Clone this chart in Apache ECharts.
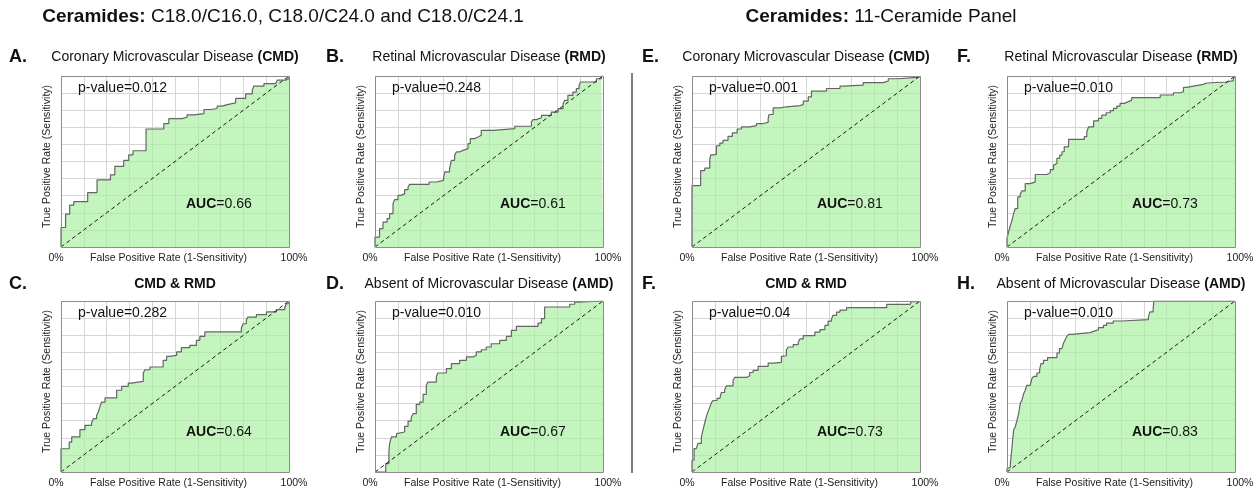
<!DOCTYPE html>
<html><head><meta charset="utf-8">
<script src="https://cdn.jsdelivr.net/npm/echarts/dist/echarts.min.js"></script>
<style>html,body{margin:0;padding:0;background:#fff}#c{width:1260px;height:490px}</style>
</head><body><div id="c"></div>
<script>
// ---- Data (FPR / TPR step points) ----
const fprA = [0, 0, 0.020, 0.038, 0.056, 0.117, 0.158, 0.217, 0.236, 0.275, 0.297, 0.316, 0.373, 0.451, 0.473, 0.531, 0.553, 0.583, 0.627, 0.656, 0.685, 0.707, 0.729, 0.766, 0.810, 0.839, 0.846, 0.890, 0.941, 0.949, 0.985, 1];
const tprA = [0, 0.114, 0.192, 0.245, 0.265, 0.318, 0.392, 0.422, 0.471, 0.506, 0.539, 0.563, 0.690, 0.722, 0.751, 0.759, 0.773, 0.780, 0.804, 0.810, 0.824, 0.833, 0.843, 0.869, 0.896, 0.918, 0.941, 0.955, 0.965, 0.976, 0.986, 1];

const fprB = [0, 0, 0.020, 0.035, 0.053, 0.064, 0.079, 0.086, 0.101, 0.115, 0.130, 0.145, 0.152, 0.237, 0.269, 0.301, 0.306, 0.327, 0.335, 0.349, 0.357, 0.371, 0.386, 0.408, 0.418, 0.437, 0.452, 0.466, 0.518, 0.613, 0.686, 0.693, 0.708, 0.730, 0.773, 0.803, 0.825, 0.832, 0.846, 0.868, 0.883, 0.895, 0.901, 0.971, 0.993, 1];
const tprB = [0, 0.058, 0.107, 0.146, 0.166, 0.195, 0.253, 0.277, 0.302, 0.312, 0.335, 0.351, 0.366, 0.380, 0.390, 0.405, 0.439, 0.458, 0.507, 0.536, 0.556, 0.565, 0.575, 0.604, 0.634, 0.643, 0.653, 0.682, 0.692, 0.706, 0.731, 0.745, 0.756, 0.770, 0.789, 0.809, 0.838, 0.858, 0.887, 0.906, 0.926, 0.945, 0.965, 0.984, 1.0, 1];

const fprC = [0, 0, 0.036, 0.047, 0.083, 0.105, 0.134, 0.142, 0.156, 0.164, 0.171, 0.178, 0.193, 0.244, 0.266, 0.295, 0.309, 0.361, 0.368, 0.390, 0.448, 0.463, 0.477, 0.507, 0.528, 0.565, 0.594, 0.609, 0.631, 0.791, 0.799, 0.813, 0.820, 0.857, 0.901, 0.945, 0.981, 0.988, 1];
const tprC = [0, 0.136, 0.175, 0.205, 0.248, 0.273, 0.287, 0.312, 0.331, 0.351, 0.384, 0.409, 0.433, 0.478, 0.501, 0.520, 0.530, 0.579, 0.598, 0.614, 0.653, 0.676, 0.682, 0.702, 0.727, 0.741, 0.770, 0.793, 0.819, 0.844, 0.867, 0.891, 0.906, 0.920, 0.936, 0.949, 0.961, 0.984, 1];

const fprD = [0, 0.047, 0.061, 0.064, 0.072, 0.094, 0.101, 0.130, 0.145, 0.159, 0.167, 0.181, 0.196, 0.211, 0.225, 0.232, 0.269, 0.276, 0.313, 0.335, 0.371, 0.401, 0.430, 0.444, 0.466, 0.488, 0.510, 0.547, 0.576, 0.598, 0.620, 0.715, 0.730, 0.744, 0.854, 0.876, 0.890, 1];
const tprD = [0, 0.049, 0.117, 0.166, 0.205, 0.224, 0.234, 0.267, 0.298, 0.318, 0.341, 0.396, 0.409, 0.454, 0.507, 0.526, 0.559, 0.579, 0.604, 0.634, 0.653, 0.673, 0.682, 0.702, 0.715, 0.731, 0.750, 0.770, 0.793, 0.828, 0.852, 0.871, 0.897, 0.965, 0.981, 0.994, 1.0, 1];

const fprE = [0, 0, 0.038, 0.056, 0.078, 0.082, 0.095, 0.107, 0.122, 0.136, 0.158, 0.177, 0.198, 0.217, 0.253, 0.283, 0.312, 0.334, 0.338, 0.356, 0.385, 0.414, 0.473, 0.488, 0.510, 0.524, 0.590, 0.649, 0.663, 0.751, 0.839, 0.861, 0.905, 0.985, 1];
const tprE = [0, 0.359, 0.447, 0.461, 0.514, 0.539, 0.543, 0.592, 0.608, 0.624, 0.647, 0.667, 0.690, 0.702, 0.710, 0.722, 0.729, 0.749, 0.775, 0.814, 0.820, 0.827, 0.833, 0.853, 0.878, 0.912, 0.927, 0.941, 0.947, 0.961, 0.971, 0.984, 0.992, 0.996, 1];

const fprF = [0, 0, 0.007, 0.015, 0.022, 0.029, 0.036, 0.047, 0.058, 0.066, 0.080, 0.102, 0.124, 0.175, 0.190, 0.204, 0.212, 0.219, 0.231, 0.241, 0.251, 0.270, 0.339, 0.350, 0.358, 0.380, 0.401, 0.416, 0.435, 0.453, 0.467, 0.482, 0.496, 0.514, 0.533, 0.547, 0.672, 0.730, 0.759, 0.774, 0.788, 0.818, 0.861, 0.876, 0.964, 0.993, 1];
const tprF = [0, 0.049, 0.088, 0.127, 0.156, 0.195, 0.225, 0.293, 0.309, 0.328, 0.371, 0.381, 0.424, 0.434, 0.453, 0.479, 0.488, 0.518, 0.537, 0.557, 0.586, 0.629, 0.645, 0.674, 0.703, 0.738, 0.752, 0.771, 0.785, 0.797, 0.811, 0.824, 0.840, 0.850, 0.859, 0.873, 0.889, 0.902, 0.908, 0.934, 0.941, 0.951, 0.959, 0.965, 0.973, 0.986, 1];

const fprG = [0, 0, 0.009, 0.019, 0.026, 0.041, 0.048, 0.056, 0.063, 0.070, 0.078, 0.085, 0.092, 0.110, 0.122, 0.129, 0.143, 0.151, 0.180, 0.187, 0.239, 0.253, 0.268, 0.290, 0.334, 0.356, 0.392, 0.400, 0.414, 0.422, 0.444, 0.466, 0.473, 0.488, 0.539, 0.561, 0.583, 0.597, 0.612, 0.619, 0.634, 0.649, 0.678, 0.854, 0.956, 0.963, 1];
const tprG = [0, 0.069, 0.137, 0.147, 0.167, 0.206, 0.245, 0.288, 0.324, 0.353, 0.378, 0.406, 0.418, 0.431, 0.441, 0.465, 0.480, 0.504, 0.535, 0.553, 0.563, 0.582, 0.594, 0.618, 0.637, 0.641, 0.676, 0.680, 0.716, 0.731, 0.745, 0.759, 0.778, 0.798, 0.818, 0.833, 0.857, 0.882, 0.896, 0.916, 0.935, 0.947, 0.961, 0.980, 0.986, 0.996, 1];

const fprH = [0, 0, 0.007, 0.015, 0.019, 0.022, 0.026, 0.029, 0.036, 0.044, 0.051, 0.058, 0.066, 0.073, 0.080, 0.087, 0.102, 0.109, 0.117, 0.131, 0.143, 0.149, 0.160, 0.178, 0.219, 0.230, 0.241, 0.248, 0.255, 0.262, 0.270, 0.284, 0.364, 0.386, 0.401, 0.423, 0.437, 0.466, 0.503, 0.620, 0.627, 0.641, 0.644, 1];
const tprH = [0, 0.019, 0.029, 0.049, 0.107, 0.146, 0.205, 0.244, 0.263, 0.302, 0.341, 0.400, 0.423, 0.458, 0.478, 0.507, 0.517, 0.546, 0.559, 0.579, 0.598, 0.634, 0.653, 0.669, 0.696, 0.721, 0.731, 0.754, 0.774, 0.793, 0.805, 0.815, 0.825, 0.832, 0.844, 0.858, 0.871, 0.883, 0.891, 0.906, 0.936, 0.955, 1.0, 1];

const diagonal = [[0, 0], [1, 1]];

// ---- Texts ----
const panelLetters = ['A.', 'B.', 'C.', 'D.', 'E.', 'F.', 'F.', 'H.'];
const panelNames = ['Coronary Microvascular Disease ', 'Retinal Microvascular Disease ', '', 'Absent of Microvascular Disease ',
                    'Coronary Microvascular Disease ', 'Retinal Microvascular Disease ', '', 'Absent of Microvascular Disease '];
const panelAbbr = ['(CMD)', '(RMD)', 'CMD & RMD', '(AMD)', '(CMD)', '(RMD)', 'CMD & RMD', '(AMD)'];
const pValues = ['0.012', '0.248', '0.282', '0.010', '0.001', '0.010', '0.04', '0.010'];
const aucValues = ['0.66', '0.61', '0.64', '0.67', '0.81', '0.73', '0.73', '0.83'];
const xTickLabels = ['0%', '100%'];
const xAxisTitle = 'False Positive Rate (1-Sensitivity)';
const yAxisTitle = 'True Positive Rate (Sensitivity)';
const mainTitleBold = ['Ceramides:', 'Ceramides:'];
const mainTitleRest = [' C18.0/C16.0, C18.0/C24.0 and C18.0/C24.1', ' 11-Ceramide Panel'];

const panelFpr = [fprA, fprB, fprC, fprD, fprE, fprF, fprG, fprH];
const panelTpr = [tprA, tprB, tprC, tprD, tprE, tprF, tprG, tprH];

// ---- Layout ----
const FONT = '"Liberation Sans", Arial, Helvetica, sans-serif';
const colLeft = [61, 375, 692, 1007];
const colLetterX = [9, 326, 642, 957];
const rowTop = [76, 301];
const rowTitleY = [57, 284];
const rowAucY = [204, 432];
const W = 228, H = 171;

const grids = [], xAxes = [], yAxes = [], series = [], graphics = [];

for (let i = 0; i < 8; i++) {
  const col = i < 4 ? i % 2 : 2 + (i % 2);
  const row = (i % 4) < 2 ? 0 : 1;
  const left = colLeft[col], top = rowTop[row];
  grids.push({ left: left, top: top, width: W, height: H, show: false, outerBoundsMode: 'none', containLabel: false });
  xAxes.push({
    type: 'value', gridIndex: i, min: 0, max: 1, interval: 0.1,
    axisLine: { show: false }, axisTick: { show: false },
    splitLine: { show: true, lineStyle: { color: '#d6d6d6', width: 1 } },
    axisLabel: {
      show: true, margin: 6, showMinLabel: true, showMaxLabel: true,
      formatter: v => (v === 0 ? '{l|' + xTickLabels[0] + '}' : (v === 1 ? '{r|' + xTickLabels[1] + '}' : '')),
      rich: {
        l: { fontSize: 10.5, fontFamily: FONT, color: '#222', padding: [0, 10, 0, 0] },
        r: { fontSize: 10.5, fontFamily: FONT, color: '#222', padding: [0, 0, 0, 10] }
      }
    },
    name: xAxisTitle, nameLocation: 'middle', nameGap: 6, nameMoveOverlap: false,
    nameTextStyle: { fontSize: 10.5, fontFamily: FONT, color: '#222', padding: [0, 13, 0, 0], verticalAlign: 'top' }
  });
  yAxes.push({
    type: 'value', gridIndex: i, min: 0, max: 1, interval: 0.1,
    axisLine: { show: false }, axisTick: { show: false }, axisLabel: { show: false },
    splitLine: { show: true, lineStyle: { color: '#d6d6d6', width: 1 } },
    name: yAxisTitle, nameLocation: 'middle', nameGap: 8, nameMoveOverlap: false,
    nameTextStyle: { fontSize: 10.5, fontFamily: FONT, color: '#222', padding: [0, 0, 0, 10] }
  });
  const fpr = panelFpr[i], tpr = panelTpr[i];
  const n = Math.min(fpr.length, tpr.length);
  const data = [];
  for (let k = 0; k < n; k++) data.push([fpr[k], tpr[k]]);
  series.push({
    type: 'line', xAxisIndex: i, yAxisIndex: i, data: data, step: 'end',
    symbol: 'none', silent: true, animation: false, z: 2,
    lineStyle: { color: '#656565', width: 1.2 },
    areaStyle: { color: '#a6f09c', opacity: 0.65, origin: 'start' }
  });
  series.push({
    type: 'line', xAxisIndex: i, yAxisIndex: i, data: diagonal,
    symbol: 'none', silent: true, animation: false, z: 3,
    lineStyle: { color: '#1a1a1a', width: 1, type: [4, 3] }
  });

  // plot border
  graphics.push({ type: 'rect', z: 100, silent: true,
    shape: { x: left + 0.5, y: top + 0.5, width: W, height: H },
    style: { fill: null, stroke: '#8c8c8c', lineWidth: 1 } });
  // panel letter
  graphics.push({ type: 'text', z: 100, x: colLetterX[col], y: rowTitleY[row],
    style: { text: panelLetters[i], font: 'bold 18px ' + FONT, fill: '#111', align: 'left', verticalAlign: 'middle' } });
  // panel title
  const tTxt = (panelNames[i] ? '{n|' + panelNames[i] + '}' : '') + '{b|' + panelAbbr[i] + '}';
  graphics.push({ type: 'text', z: 100, x: left + W / 2, y: rowTitleY[row],
    style: { text: tTxt, align: 'center', verticalAlign: 'middle', fill: '#111',
      rich: {
        n: { fontSize: 14, fontFamily: FONT, fill: '#111', color: '#111' },
        b: { fontSize: 14, fontFamily: FONT, fontWeight: 'bold', fill: '#111', color: '#111' }
      } } });
  // p-value
  graphics.push({ type: 'text', z: 100, x: left + 17, y: top + 12,
    style: { text: 'p-value=' + pValues[i], font: '14px ' + FONT, fill: '#111', align: 'left', verticalAlign: 'middle' } });
  // AUC
  graphics.push({ type: 'text', z: 100, x: left + 125, y: rowAucY[row],
    style: { text: '{b|AUC}{n|=' + aucValues[i] + '}', align: 'left', verticalAlign: 'middle', fill: '#111',
      rich: {
        n: { fontSize: 14, fontFamily: FONT, fill: '#111', color: '#111' },
        b: { fontSize: 14, fontFamily: FONT, fontWeight: 'bold', fill: '#111', color: '#111' }
      } } });
}

// main titles
const mainX = [283, 881];
for (let t = 0; t < 2; t++) {
  graphics.push({ type: 'text', z: 100, x: mainX[t], y: 17,
    style: { text: '{b|' + mainTitleBold[t] + '}{n|' + mainTitleRest[t] + '}', align: 'center', verticalAlign: 'middle',
      rich: {
        b: { fontSize: 19, fontFamily: FONT, fontWeight: 'bold', fill: '#111', color: '#111' },
        n: { fontSize: 19, fontFamily: FONT, fill: '#111', color: '#111' }
      } } });
}
// separator
graphics.push({ type: 'line', z: 100, silent: true,
  shape: { x1: 632, y1: 73, x2: 632, y2: 473 },
  style: { stroke: '#555', lineWidth: 1.5 } });

const chart = echarts.init(document.getElementById('c'), null, { renderer: 'canvas' });
chart.setOption({
  animation: false,
  backgroundColor: '#ffffff',
  grid: grids, xAxis: xAxes, yAxis: yAxes, series: series,
  graphic: { elements: graphics }
});
</script></body></html>
